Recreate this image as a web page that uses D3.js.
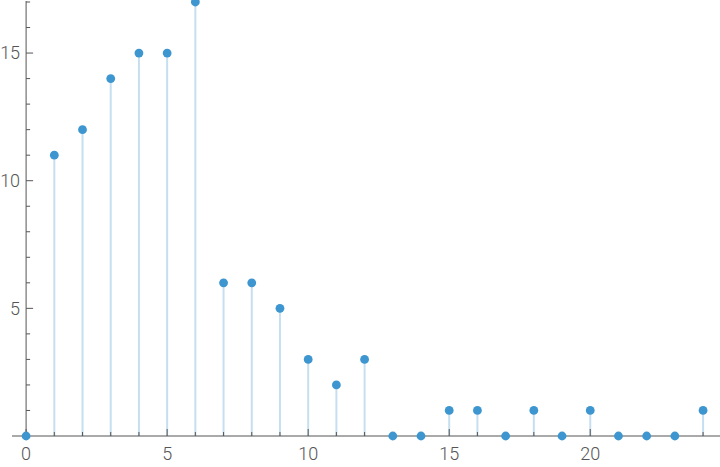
<!DOCTYPE html>
<html>
<head>
<meta charset="utf-8">
<script src="https://cdn.jsdelivr.net/npm/d3@7"></script>
<style>
  body { margin: 0; background: #fff; }
  svg { display: block; }
  .tick text { font-family: Roboto, sans-serif; font-size: 18px; font-weight: 300; fill: #555; }
</style>
</head>
<body>
<svg id="chart" width="720" height="467"></svg>
<script>
"use strict";
// values, one per integer n = 0..24
const xs = d3.range(0, 25);
const counts = [0, 11, 12, 14, 15, 15, 17, 6, 6, 5, 3, 2, 3, 0, 0, 1, 1, 0, 1, 0, 1, 0, 0, 0, 1];
const xMajor = [0, 5, 10, 15, 20];
const yMajor = [5, 10, 15];

const svg = d3.select('#chart');
const x = d3.scaleLinear().domain([-0.5, 24.6]).range([12, 720]);
const y = d3.scaleLinear().domain([0, 17]).range([436, 2]);
const axisColor = '#555';

// stems
svg.append('g')
    .selectAll('line')
    .data(xs)
    .enter()
    .append('line')
    .attr('x1', d => x(d))
    .attr('x2', d => x(d))
    .attr('y1', y(0))
    .attr('y2', d => y(counts[d]))
    .attr('stroke', '#c6dff0')
    .attr('stroke-width', 2);

// x axis: minor ticks each unit, labels at majors
const xAxis = svg.append('g').attr('transform', `translate(0,${y(0)})`);
xAxis.append('line')
    .attr('x1', 12).attr('x2', 720)
    .attr('stroke', axisColor);
xAxis.selectAll('.minor')
    .data(xs)
    .enter()
    .append('line')
    .attr('x1', d => x(d)).attr('x2', d => x(d))
    .attr('y1', 0)
    .attr('y2', d => xMajor.includes(d) ? -7 : -4)
    .attr('stroke', axisColor);
xAxis.selectAll('.tick')
    .data(xMajor)
    .enter()
    .append('g')
    .attr('class', 'tick')
    .append('text')
    .attr('x', d => x(d))
    .attr('y', 24)
    .attr('text-anchor', 'middle')
    .text(d => d);

// y axis
const yAxis = svg.append('g').attr('transform', `translate(${x(0)},0)`);
yAxis.append('line')
    .attr('y1', 1).attr('y2', y(0))
    .attr('stroke', axisColor);
yAxis.selectAll('.minor')
    .data(d3.range(1, 18))
    .enter()
    .append('line')
    .attr('y1', d => y(d)).attr('y2', d => y(d))
    .attr('x1', 0)
    .attr('x2', d => yMajor.includes(d) ? 7 : 4)
    .attr('stroke', axisColor);
yAxis.selectAll('.tick')
    .data(yMajor)
    .enter()
    .append('g')
    .attr('class', 'tick')
    .append('text')
    .attr('x', -6)
    .attr('y', d => y(d))
    .attr('dy', '0.35em')
    .attr('text-anchor', 'end')
    .text(d => d);

// points
svg.append('g')
    .selectAll('circle')
    .data(xs)
    .enter()
    .append('circle')
    .attr('cx', d => x(d))
    .attr('cy', d => y(counts[d]))
    .attr('r', 4.4)
    .attr('fill', '#3d96cf');
</script>
</body>
</html>
